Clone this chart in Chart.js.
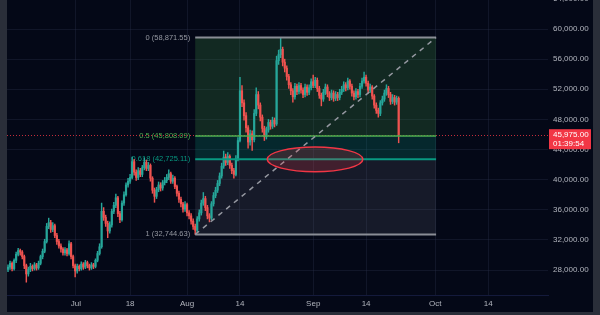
<!DOCTYPE html>
<html><head><meta charset="utf-8">
<script src="https://cdn.jsdelivr.net/npm/chart.js@4/dist/chart.umd.min.js"></script>
<style>html,body{margin:0;padding:0;background:#2a2e39;}canvas{display:block;}</style>
</head><body>
<canvas id="c" width="600" height="315"></canvas>
<script>
// 12h candles; time measured in days relative to Aug 1
const firstCandleDay = -44;
const candleStepDays = 0.5;

const openPrices = [28100,28400,28900,28200,29300,30100,30600,30400,29800,28600,
27500,28100,28500,28200,28700,28300,28900,29800,30500,31800,
33800,34300,33400,33900,32600,31800,31200,30800,30300,30700,
30200,31500,29800,28600,27900,28500,28200,28800,28400,29000,
28600,28300,28700,28500,29300,30200,31100,35800,35000,34200,
33200,34000,35800,36600,37600,35500,34700,36900,38000,39300,
39800,40300,42400,41000,40300,41200,40700,41600,42300,41500,
41900,40200,38600,37800,38700,39300,38900,39600,39900,40300,
40800,39800,40200,39100,38200,37400,36800,36100,36700,35600,
35200,34500,33800,33300,34800,35600,36900,37500,36300,35200,
34900,36800,37900,38600,39500,40500,41800,43000,42300,43100,
41900,41200,40700,42800,45200,51800,50200,48500,46900,45000,
46100,45300,48800,51300,49900,48300,46800,45700,46600,47600,
47100,47900,47400,55800,56600,57300,55600,54800,53700,52600,
51800,51000,52400,51700,52500,51900,51300,52300,51600,52200,
53000,52500,53200,52100,51200,50700,51600,52300,51400,50900,
51500,50800,51300,50900,51600,52000,52600,52200,53100,52400,
51500,51000,51700,51300,52400,53100,53600,52800,51900,52300,
51100,49900,49200,48800,50200,50700,51500,52100,51300,50400,
50900,50300,50800];

const highPrices = [28700,29200,29100,29500,30400,30900,30800,30600,30000,28800,
28400,28900,28700,29000,28900,29200,30000,30800,32100,34200,
34900,34600,34300,34100,32900,32100,31500,31000,31000,30900,
31900,31700,30000,28800,28800,28700,29100,29000,29300,29200,
28800,29000,28900,29500,30500,31500,36900,36300,35300,34500,
34400,36100,37000,38100,37800,35800,37200,38400,39600,40200,
40700,43000,42700,41300,41600,41500,41900,42900,42600,42300,
42100,40400,38900,39000,39700,39600,39900,40300,40700,41300,
41000,40600,40400,39300,38500,37700,37000,37100,36900,35900,
35500,34800,34100,35100,36000,37300,38300,37800,36600,35500,
37100,38300,39000,39900,40900,42200,43800,43400,43600,43300,
42200,41500,43200,45600,53600,52500,50600,48900,47200,46600,
46500,49300,52200,51700,50200,48600,47100,47000,48000,47900,
48300,48200,56400,57200,58870,57600,56000,55100,54000,52900,
52100,52800,52700,52900,52800,52200,52700,52600,52600,53400,
53900,53600,53500,52400,51500,52000,52700,52600,51700,51900,
51800,51700,51600,52000,52400,53000,52900,53500,53300,52700,
51800,52100,52000,52800,53500,54300,53900,53100,52700,52500,
51300,50200,49500,50500,51100,51900,52600,52400,51600,51300,
51200,51100,51000];

const lowPrices = [27800,28100,27900,28000,29000,29900,30000,29500,28200,26400,
27200,27800,27900,28000,28000,28100,28700,29500,30300,31600,
33500,33000,33100,32300,31400,30900,30400,30000,30000,29900,
30000,29500,28300,27100,27600,27900,28000,28100,28200,28300,
28000,28100,28200,28300,29100,30000,30900,34600,33800,32300,
32900,33700,35500,36300,35100,34300,34500,36600,37800,39000,
39500,40100,40600,39900,40000,40400,40400,41300,41200,41200,
39800,38200,37000,37500,38400,38500,38600,39300,39600,40000,
39500,39500,38800,37800,37000,36400,35700,35800,35200,34800,
34100,33400,32745,33000,34500,35300,36600,35900,34800,34400,
34700,36500,37600,38300,39200,40200,41500,41900,42000,41500,
40800,40200,40500,42500,45000,49700,47900,46300,44200,44600,
43900,45000,48500,49400,47800,46300,45200,45400,46300,46700,
46800,47000,47200,55300,56200,55100,54300,53200,52100,51300,
50300,50700,51300,51400,51500,50900,51000,51200,51300,51900,
52200,52200,51700,50800,49800,50400,51300,51000,50500,50600,
50400,50500,50500,50600,51300,51700,51800,51900,52000,51100,
50600,50700,50900,51000,52100,52800,52400,51500,51600,50700,
49500,48800,48300,48500,49900,50400,51200,50900,50000,50100,
49900,50000,44900];

const closePrices = [28400,28900,28200,29300,30100,30600,30400,29800,28600,27500,
28100,28500,28200,28700,28300,28900,29800,30500,31800,33800,
34300,33400,33900,32600,31800,31200,30800,30300,30700,30200,
31500,29800,28600,27900,28500,28200,28800,28400,29000,28600,
28300,28700,28500,29300,30200,31100,35800,35000,34200,33200,
34000,35800,36600,37600,35500,34700,36900,38000,39300,39800,
40300,42400,41000,40300,41200,40700,41600,42300,41500,41900,
40200,38600,37800,38700,39300,38900,39600,39900,40300,40800,
39800,40200,39100,38200,37400,36800,36100,36700,35600,35200,
34500,33800,33300,34800,35600,36900,37500,36300,35200,34900,
36800,37900,38600,39500,40500,41800,43000,42300,43100,41900,
41200,40700,42800,45200,51800,50200,48500,46900,45000,46100,
45300,48800,51300,49900,48300,46800,45700,46600,47600,47100,
47900,47400,55800,56600,57300,55600,54800,53700,52600,51800,
51000,52400,51700,52500,51900,51300,52300,51600,52200,53000,
52500,53200,52100,51200,50700,51600,52300,51400,50900,51500,
50800,51300,50900,51600,52000,52600,52200,53100,52400,51500,
51000,51700,51300,52400,53100,53600,52800,51900,52300,51100,
49900,49200,48800,50200,50700,51500,52100,51300,50400,50900,
50300,50800,45975];

const xTickDays = [-27.3, -14, 0, 13, 31, 44, 61, 74];
const xTickLabels = ['Jul', '18', 'Aug', '14', 'Sep', '14', 'Oct', '14'];
const yTickValues = [28000, 32000, 36000, 40000, 44000, 48000, 52000, 56000, 60000];
const yClippedTick = 64000;   // partly visible at the very top

const fibLevels = ['0', '0.5', '0.618', '1'];
const fibPrices = [58871.55, 45808.09, 42725.11, 32744.63];
const fibStartDay = 2;
const fibEndDay = 61.2;

const ellipseDays = [19.7, 43.2];
const ellipsePrices = [41060, 44340];

const lastPrice = 45975.00;
const countdown = '01:39:54';

// ---- styles ----
const UP = '#26a69a', DOWN = '#ef5350';
const BG = '#040817', FRAME = '#2a2e39';
const TXT = '#b2b5be';
const FONT = '"Liberation Sans", Arial, sans-serif';
const fibLineColors = ['#8a8d96', '#4caf50', '#089981', '#8a8d96'];
const fibTextColors = ['#9598a1', '#4caf50', '#089981', '#9598a1'];
const fibFillColors = ['rgba(76,175,80,0.2)', 'rgba(8,153,129,0.22)', 'rgba(120,123,134,0.16)'];

const candleX = i => firstCandleDay + i * candleStepDays;
const isUp = closePrices.map((c, i) => c >= openPrices[i]);
const fmt = v => v.toLocaleString('en-US', {minimumFractionDigits: 2, maximumFractionDigits: 2});

const drawingsPlugin = {
  id: 'drawings',
  beforeDraw(chart) {
    const ctx = chart.ctx;
    ctx.save();
    ctx.fillStyle = FRAME;
    ctx.fillRect(0, 0, chart.width, chart.height);
    ctx.fillStyle = BG;
    ctx.fillRect(7, 0, 586, 312);
    ctx.restore();
  },
  beforeDatasetsDraw(chart) {
    const {ctx, chartArea: a, scales: {x, y}} = chart;
    const x0 = x.getPixelForValue(fibStartDay), x1 = x.getPixelForValue(fibEndDay);
    ctx.save();
    ctx.beginPath(); ctx.rect(a.left, a.top, a.right - a.left, a.bottom - a.top); ctx.clip();
    for (let k = 0; k < fibPrices.length - 1; k++) {
      const ya = y.getPixelForValue(fibPrices[k]), yb = y.getPixelForValue(fibPrices[k + 1]);
      ctx.fillStyle = fibFillColors[k];
      ctx.fillRect(x0, ya, x1 - x0, yb - ya);
    }
    ctx.font = '7.5px ' + FONT;
    ctx.textAlign = 'right'; ctx.textBaseline = 'middle';
    for (let k = 0; k < fibPrices.length; k++) {
      ctx.fillStyle = fibTextColors[k];
      ctx.fillText(fibLevels[k] + ' (' + fmt(fibPrices[k]) + ')', x0 - 5, y.getPixelForValue(fibPrices[k]));
    }
    ctx.restore();
  },
  afterDatasetsDraw(chart) {
    const {ctx, chartArea: a, scales: {x, y}} = chart;
    const x0 = x.getPixelForValue(fibStartDay), x1 = x.getPixelForValue(fibEndDay);
    ctx.save();
    ctx.beginPath(); ctx.rect(a.left, a.top, a.right - a.left, a.bottom - a.top); ctx.clip();
    // last price dotted line
    const py = y.getPixelForValue(lastPrice);
    ctx.strokeStyle = 'rgba(242,54,69,0.8)'; ctx.lineWidth = 1; ctx.setLineDash([1, 2]);
    ctx.beginPath(); ctx.moveTo(a.left, Math.round(py) + 0.5); ctx.lineTo(a.right, Math.round(py) + 0.5); ctx.stroke();
    ctx.setLineDash([]);
    // fib lines
    const widths = [2, 1.5, 2, 2];
    for (let k = 0; k < fibPrices.length; k++) {
      const yy = y.getPixelForValue(fibPrices[k]);
      ctx.strokeStyle = fibLineColors[k]; ctx.lineWidth = widths[k];
      ctx.beginPath(); ctx.moveTo(x0, yy); ctx.lineTo(x1, yy); ctx.stroke();
    }
    // trend line
    ctx.strokeStyle = '#9598a1'; ctx.lineWidth = 1.5; ctx.setLineDash([5, 5]);
    ctx.beginPath();
    ctx.moveTo(x0, y.getPixelForValue(fibPrices[3]));
    ctx.lineTo(x1, y.getPixelForValue(fibPrices[0]));
    ctx.stroke(); ctx.setLineDash([]);
    // ellipse
    const ex0 = x.getPixelForValue(ellipseDays[0]), ex1 = x.getPixelForValue(ellipseDays[1]);
    const ey0 = y.getPixelForValue(ellipsePrices[1]), ey1 = y.getPixelForValue(ellipsePrices[0]);
    ctx.beginPath();
    ctx.ellipse((ex0 + ex1) / 2, (ey0 + ey1) / 2, (ex1 - ex0) / 2, (ey1 - ey0) / 2, 0, 0, Math.PI * 2);
    ctx.fillStyle = 'rgba(242,54,69,0.2)'; ctx.fill();
    ctx.strokeStyle = '#f23645'; ctx.lineWidth = 1.5; ctx.stroke();
    ctx.restore();
  },
  afterDraw(chart) {
    const {ctx, chartArea: a, scales: {y}} = chart;
    ctx.save();
    ctx.font = '8px ' + FONT;
    ctx.textAlign = 'left'; ctx.textBaseline = 'middle';
    ctx.fillStyle = TXT;
    ctx.fillText(fmt(yClippedTick), a.right + 5, y.getPixelForValue(yClippedTick));
    const py = y.getPixelForValue(lastPrice);
    ctx.fillStyle = '#f23645';
    ctx.fillRect(549, py - 5.5, 42, 20);
    ctx.fillStyle = '#ffffff';
    ctx.fillText(fmt(lastPrice), 553, py);
    ctx.fillText(countdown, 553, py + 9.5);
    ctx.restore();
  }
};

new Chart(document.getElementById('c'), {
  type: 'bar',
  data: {
    datasets: [
      {
        label: 'wick',
        data: lowPrices.map((l, i) => ({x: candleX(i), y: [l, highPrices[i]]})),
        backgroundColor: isUp.map(u => u ? UP : DOWN),
        barThickness: 0.8,
        grouped: false,
        order: 2
      },
      {
        label: 'body',
        data: openPrices.map((o, i) => ({x: candleX(i), y: [o, closePrices[i]]})),
        backgroundColor: isUp.map(u => u ? UP : DOWN),
        barThickness: 1.5,
        grouped: false,
        order: 1
      }
    ]
  },
  options: {
    responsive: false,
    animation: false,
    events: [],
    layout: {padding: {left: 7, right: 7, top: 0, bottom: 3}},
    plugins: {legend: {display: false}, tooltip: {enabled: false}},
    scales: {
      x: {
        type: 'linear',
        min: -44.25, max: 88.7,
        bounds: 'data',
        offset: false,
        afterFit(s) { s.height = 17; s.paddingLeft = 0; s.paddingRight = 0; },
        afterBuildTicks(s) { s.ticks = xTickDays.map(v => ({value: v})); },
        ticks: {
          autoSkip: false, maxRotation: 0, padding: 4,
          color: TXT, font: {family: FONT, size: 8},
          callback(v, i) { return xTickLabels[i]; }
        },
        grid: {color: 'rgba(42,50,75,0.35)', drawTicks: false, offset: false},
        border: {display: true, color: '#141a3c'}
      },
      y: {
        position: 'right',
        min: 24700, max: 63850,
        bounds: 'data',
        afterFit(s) { s.width = 45; s.paddingTop = 0; s.paddingBottom = 0; },
        afterBuildTicks(s) { s.ticks = yTickValues.map(v => ({value: v})); },
        ticks: {
          padding: 5, color: TXT, font: {family: FONT, size: 8},
          callback(v) { return fmt(v); }
        },
        grid: {color: 'rgba(42,50,75,0.35)', drawTicks: false},
        border: {display: false}
      }
    }
  },
  plugins: [drawingsPlugin]
});
</script>
</body></html>
